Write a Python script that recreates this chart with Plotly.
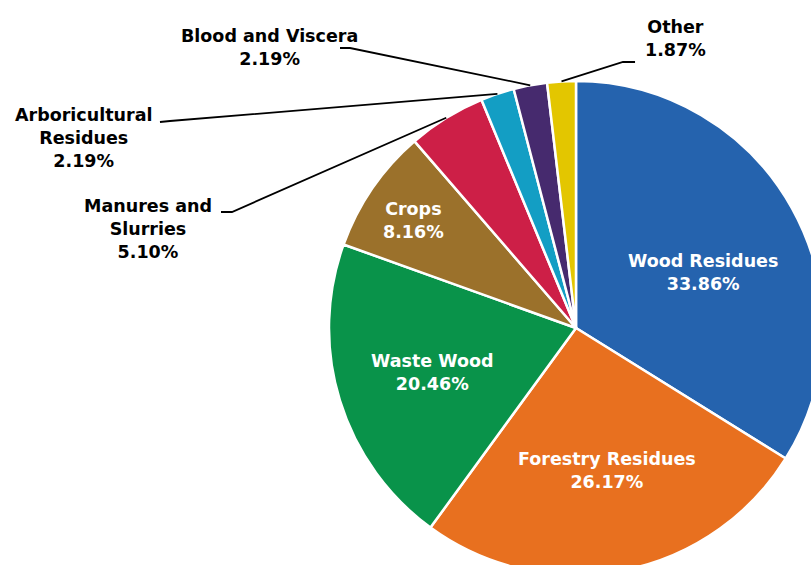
import math
import plotly.graph_objects as go

# data
labels = ["Wood Residues", "Forestry Residues", "Waste Wood", "Crops",
          "Manures and Slurries", "Arboricultural Residues", "Blood and Viscera", "Other"]
shares = [33.86, 26.17, 20.46, 8.16, 5.10, 2.19, 2.19, 1.87]
colors = ["#2563ae", "#e8701f", "#09934a", "#9b712b",
          "#cd1f47", "#139ec4", "#462a6e", "#e3c600"]
# how each label is broken onto lines
label_lines = ["Wood Residues", "Forestry Residues", "Waste Wood", "Crops",
               "Manures and<br>Slurries", "Arboricultural<br>Residues",
               "Blood and Viscera", "Other"]

# canvas is a bit bigger than the window so the pie runs off the right/bottom edge
W, H = 850, 600
CX, CY, R = 576, 328, 247
FONT = "DejaVu Sans"
FS = 17.5

# inside labels: (radius factor, angle nudge in degrees) from the slice middle
inside_pos = {"Wood Residues": (0.56, 5.5), "Forestry Residues": (0.59, -1.3),
              "Waste Wood": (0.61, 0), "Crops": (0.79, -1)}
# outside callouts: text centre and the short elbow of the leader line (pixels)
callouts = {
    "Manures and Slurries":    dict(xy=(148, 229), elbow=[(221, 212), (232, 212)]),
    "Arboricultural Residues": dict(xy=(83, 138),  elbow=[(160, 122), (170, 121)]),
    "Blood and Viscera":       dict(xy=(269, 47),  elbow=[(340, 48), (350, 48)]),
    "Other":                   dict(xy=(675, 39),  elbow=[(635, 62), (623, 62)]),
}


def paper(x, y):
    return x / W, 1 - y / H


def polar(angle, r):
    return CX + r * math.sin(angle), CY - r * math.cos(angle)


fig = go.Figure(go.Pie(
    labels=labels, values=shares, sort=False, direction="clockwise", rotation=0,
    marker=dict(colors=colors, line=dict(color="white", width=2.5)),
    textinfo="none", hoverinfo="label+percent", showlegend=False,
    domain=dict(x=[(CX - R) / W, (CX + R) / W], y=[1 - (CY + R) / H, 1 - (CY - R) / H]),
))

total = sum(shares)
cum = 0
for lab, txt, v in zip(labels, label_lines, shares):
    mid = (cum + v / 2) / total * 2 * math.pi
    cum += v
    text = f"{txt}<br>{v / total:.2%}"
    if lab in inside_pos:
        rf, nudge = inside_pos[lab]
        x, y = paper(*polar(mid + math.radians(nudge), R * rf))
        fig.add_annotation(x=x, y=y, xref="paper", yref="paper", text=text,
                           showarrow=False, xanchor="center", yanchor="middle",
                           font=dict(family=FONT, size=FS, color="white", weight="bold"))
    else:
        c = callouts[lab]
        x, y = paper(*c["xy"])
        fig.add_annotation(x=x, y=y, xref="paper", yref="paper", text=text,
                           showarrow=False, xanchor="center", yanchor="middle",
                           font=dict(family=FONT, size=FS, color="black", weight="bold"))
        pts = c["elbow"] + [polar(mid, R)]
        path = "M " + " L ".join("%.4f %.4f" % paper(*p) for p in pts)
        fig.add_shape(type="path", path=path, xref="paper", yref="paper",
                      line=dict(color="black", width=1.8))

fig.update_layout(
    width=W, height=H, autosize=False,
    paper_bgcolor="white", plot_bgcolor="white",
    margin=dict(l=0, r=0, t=0, b=0),
    font=dict(family=FONT, size=FS, color="black"),
)

fig.write_html("out.html", config={"displayModeBar": False}, post_script=(
    "document.body.style.margin='0';"
    "document.body.style.overflow='hidden';"
    "document.documentElement.style.overflow='hidden';"
))
